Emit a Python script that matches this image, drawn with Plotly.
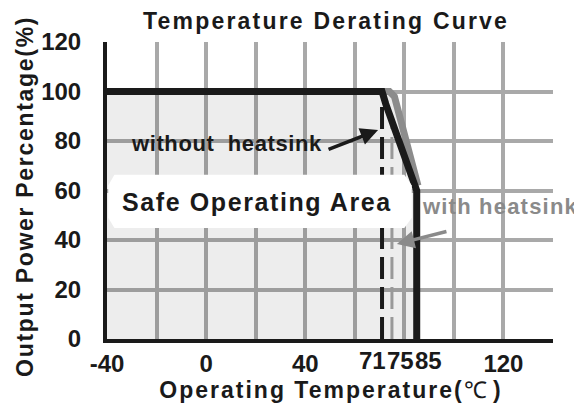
import plotly.graph_objects as go

# ---- data ----
x_without = [-40, 71, 72.5, 85, 85]
y_without = [100, 100, 95, 60, 0]
x_with = [-40, 74, 76, 85.5]
y_with = [100, 100, 98, 62]
x_area = [-40, -40, 72, 76, 85, 85]
y_area = [0, 100, 100, 98, 62, 0]
dash71_x = [71, 71]
dash71_y = [0, 97]
dash75_x = [75, 75]
dash75_y = [0, 88]
x_tickvals = [-40, 0, 40, 120]
x_ticktext = ["-40", "0", "40", "120"]
x_crowded_ticks = [71, 75, 85]
y_tickvals = [0, 20, 40, 60, 80, 100, 120]

FONT = "Liberation Sans, Arial, sans-serif"
GRID = "#a9a9a9"
INK = "#1a1a1a"


def spaced(txt, px):
    return f'<span style="letter-spacing:{px}px">{txt}</span>'


fig = go.Figure()
fig.add_trace(go.Scatter(x=x_area, y=y_area, fill="toself", mode="none",
                         fillcolor="rgba(0,0,0,0.07)", hoverinfo="skip", showlegend=False))
fig.add_trace(go.Scatter(x=x_with, y=y_with, mode="lines",
                         line=dict(color="#8c8c8c", width=7), showlegend=False))
fig.add_trace(go.Scatter(x=dash71_x, y=dash71_y, mode="lines",
                         line=dict(color=INK, width=4, dash="22px,8px"), showlegend=False))
fig.add_trace(go.Scatter(x=dash75_x, y=dash75_y, mode="lines",
                         line=dict(color="#999999", width=3, dash="22px,8px"), showlegend=False))
fig.add_trace(go.Scatter(x=x_without, y=y_without, mode="lines",
                         line=dict(color=INK, width=7), showlegend=False))

# Safe operating area box (chamfered white box)
fig.add_shape(type="path", xref="x", yref="y", layer="above",
              path="M -37,66.4 L 80,66.4 L 83,62 L 83,49 L 80,44.8 L -37,44.8 L -39.5,49 L -39.5,62 Z",
              fillcolor="white", line=dict(width=0))

annotations = [
    dict(x=20.5, y=55.5, xref="x", yref="y", text=spaced("Safe Operating Area", 1.6), showarrow=False,
         font=dict(family=FONT, size=25, color=INK, weight="bold")),
    dict(x=8.4, y=78.8, xref="x", yref="y", text=spaced("without  heatsink", 0.6), showarrow=False,
         font=dict(family=FONT, size=22, color=INK, weight="bold")),
    dict(x=69.4, y=84.4, ax=48.8, ay=76.4, xref="x", yref="y", axref="x", ayref="y",
         text="", showarrow=True, arrowhead=2, arrowsize=1, arrowwidth=3.5, arrowcolor=INK),
    dict(x=118.6, y=53.6, xref="x", yref="y", text=spaced("with heatsink", 1.2), showarrow=False,
         font=dict(family=FONT, size=22, color="#8a8a8a", weight="bold")),
    dict(x=77, y=38.4, ax=97.6, ay=43.6, xref="x", yref="y", axref="x", ayref="y",
         text="", showarrow=True, arrowhead=2, arrowsize=1, arrowwidth=3.5, arrowcolor="#8a8a8a"),
    # y axis title
    dict(x=-0.184, y=0.4815, xref="paper", yref="paper", textangle=-90,
         text=spaced("Output Power Percentage(%)", 1.7), showarrow=False,
         xanchor="center", yanchor="middle",
         font=dict(family=FONT, size=23, color=INK, weight="bold")),
    # chart title
    dict(x=0.491, y=1, xref="paper", yref="paper", yshift=36, text=spaced("Temperature Derating Curve", 2.2),
         showarrow=False, xanchor="center", yanchor="top",
         font=dict(family=FONT, size=23, color=INK, weight="bold")),
]
shifts = [-10, 9, 12]
for v, s in zip(x_crowded_ticks, shifts):
    annotations.append(dict(x=v, y=0, xref="x", yref="y", text=str(v), showarrow=False,
                            xshift=s, yshift=-21, yanchor="middle",
                            font=dict(family=FONT, size=24, color=INK, weight="bold")))

fig.update_layout(
    width=574, height=401, autosize=False,
    margin=dict(l=99, r=29, t=34, b=70),
    paper_bgcolor="white", plot_bgcolor="white",
    annotations=annotations,
    xaxis=dict(range=[-40, 140], tickvals=x_tickvals, ticktext=x_ticktext, tickangle=0,
               automargin=False,
               showgrid=True, gridcolor=GRID, gridwidth=4,
               minor=dict(tickmode="linear", tick0=-40, dtick=20, showgrid=True,
                          gridcolor=GRID, gridwidth=4, ticks=""),
               showline=True, linecolor=INK, linewidth=4, zeroline=False, ticks="",
               tickfont=dict(family=FONT, size=24, color=INK, weight="bold"),
               title=dict(text=spaced("Operating Temperature(", 2)
                          + '<span style="font-weight:normal">℃</span> )', standoff=2,
                          font=dict(family=FONT, size=23, color=INK, weight="bold"))),
    yaxis=dict(range=[0, 120], tickvals=y_tickvals, showgrid=True, gridcolor=GRID, gridwidth=4,
               automargin=False,
               showline=True, linecolor=INK, linewidth=4, zeroline=False, ticks="",
               ticklabelstandoff=17,
               tickfont=dict(family=FONT, size=24, color=INK, weight="bold")),
)

fig.write_html("out.html")
